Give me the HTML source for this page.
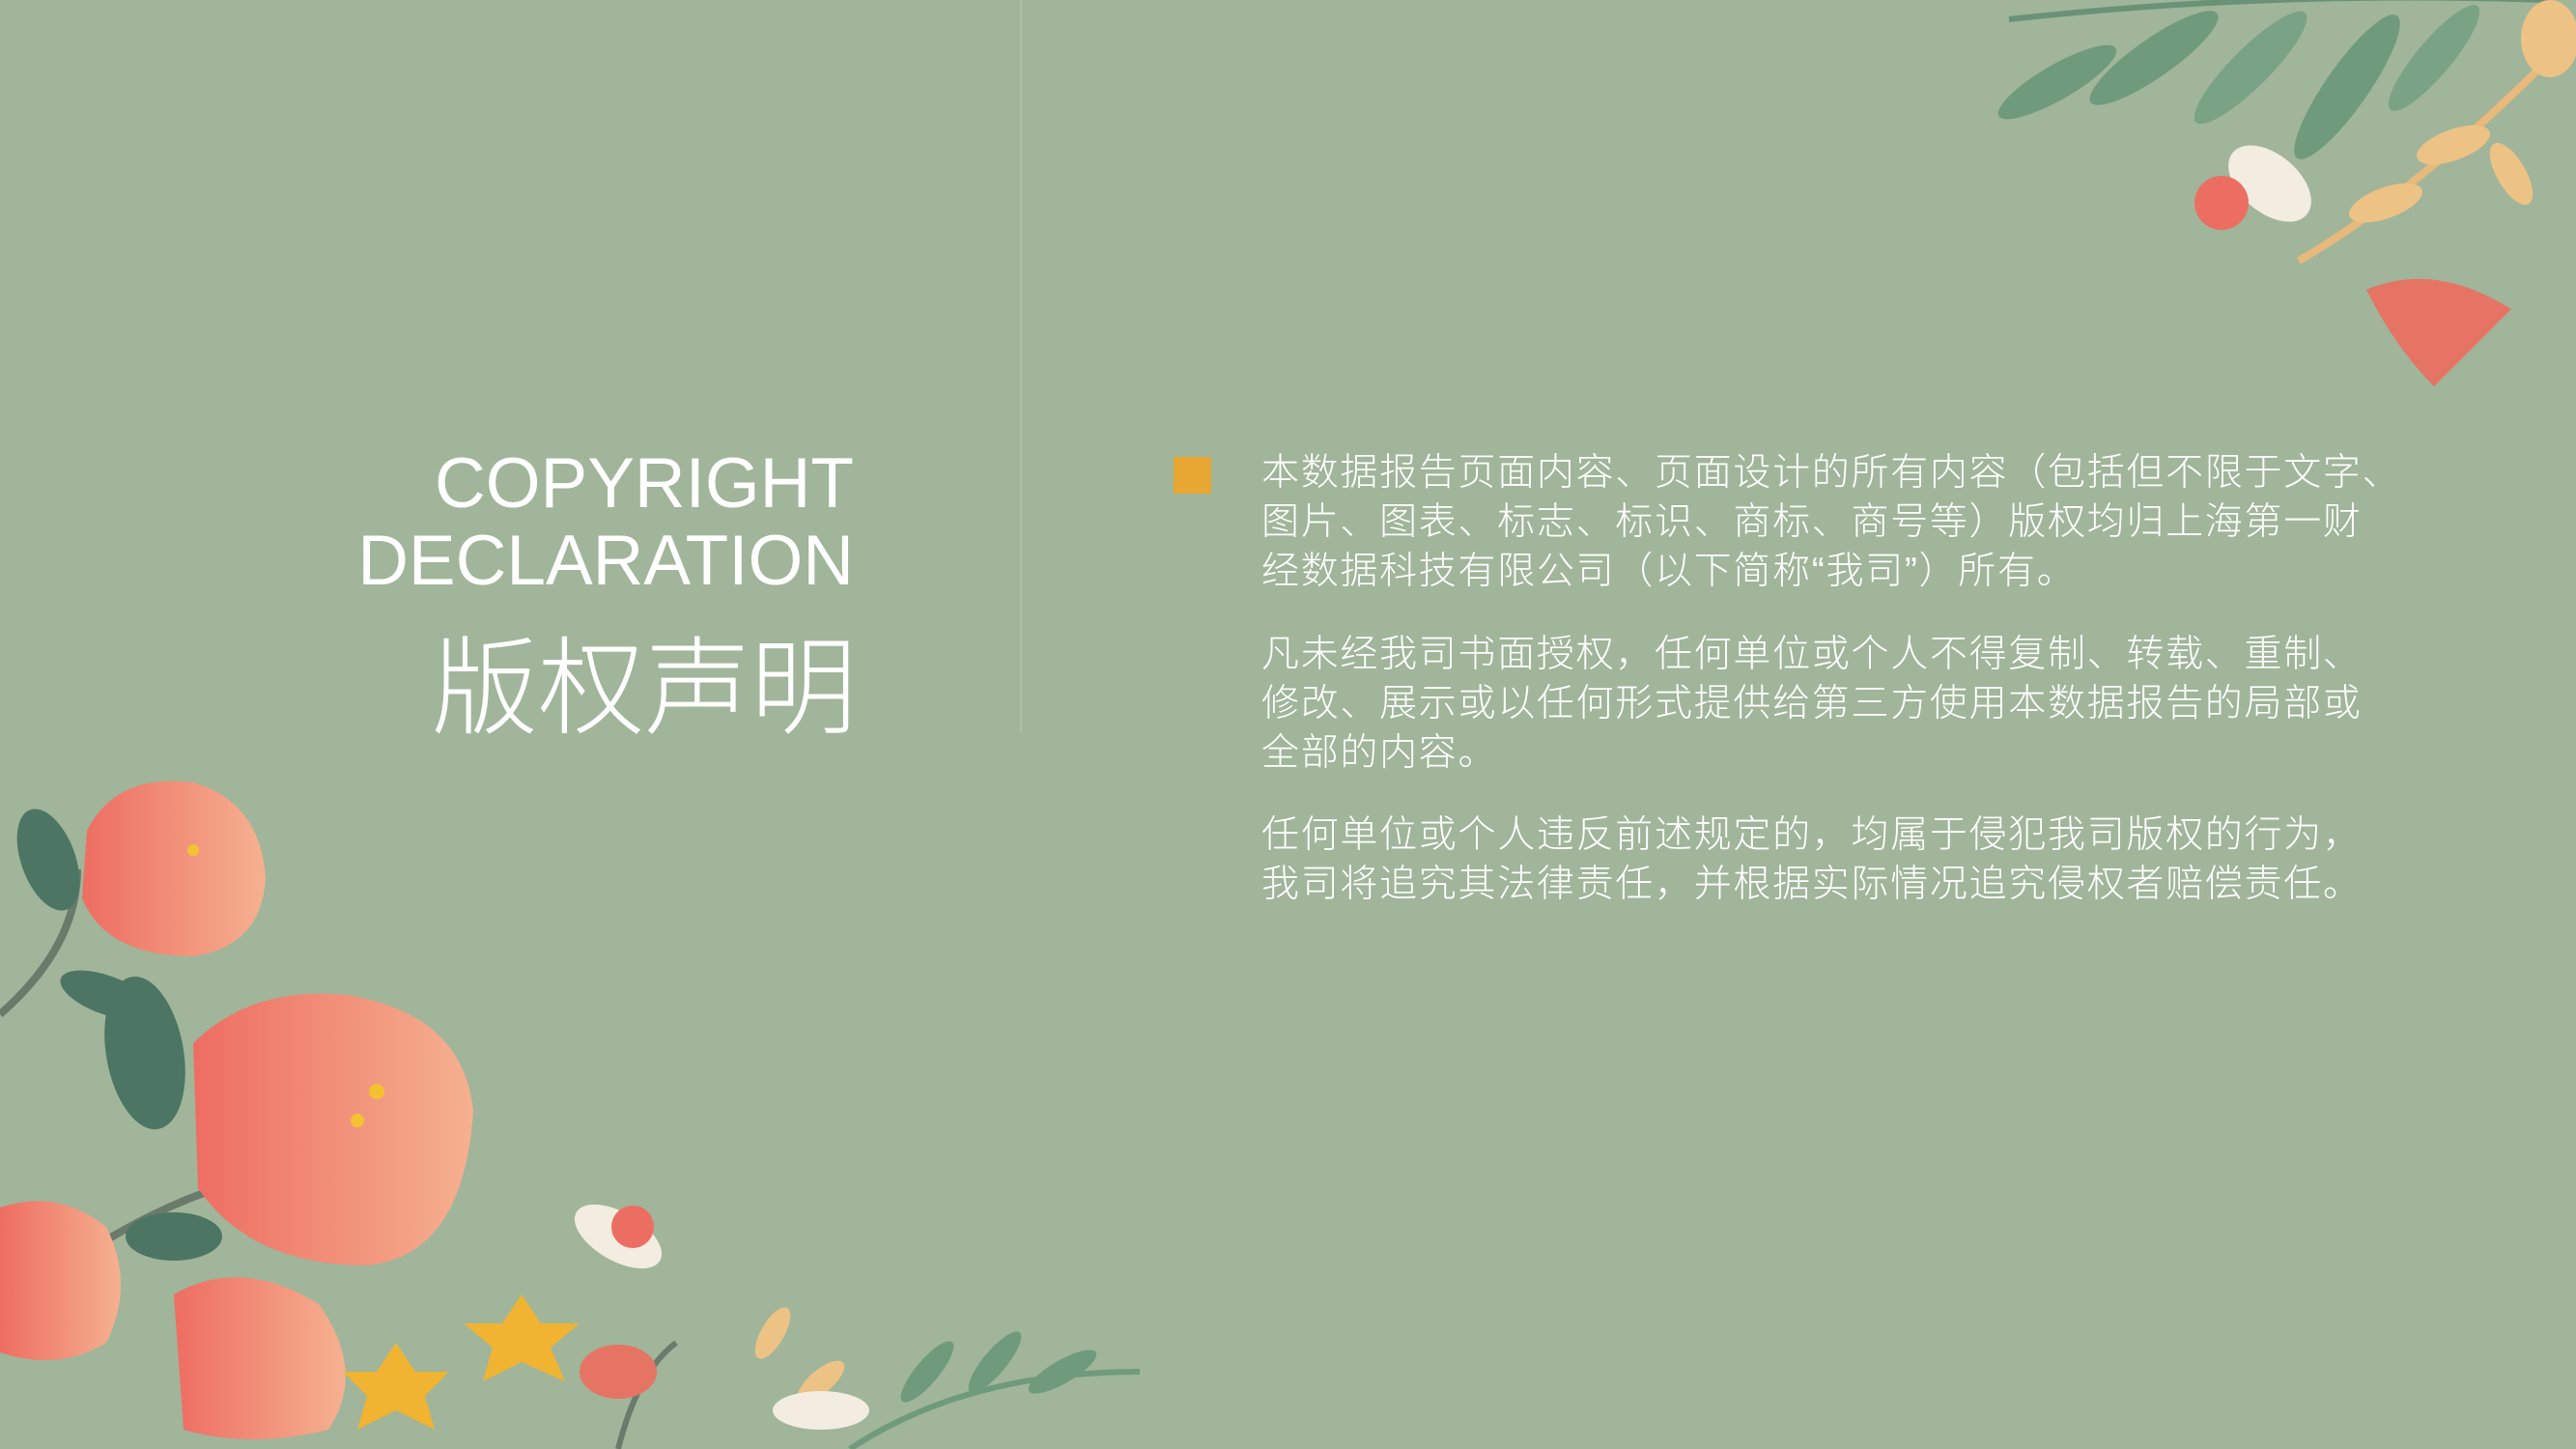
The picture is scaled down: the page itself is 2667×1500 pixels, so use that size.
<!DOCTYPE html>
<html><head><meta charset="utf-8">
<style>
html,body{margin:0;padding:0}
body{width:2667px;height:1500px;background:#a0b59a;position:relative;overflow:hidden;font-family:"Liberation Sans","Noto Sans CJK SC",sans-serif;color:#fff}
.abs{position:absolute}
#divider{left:1056px;top:0;width:2px;height:758px;background:#aec0a8}
.en{right:1783px;font-size:73px;line-height:80px;white-space:nowrap;text-align:right}
#title-cn{right:1780px;top:638px;font-size:110px;line-height:130px;font-family:"Noto Sans CJK SC",sans-serif;font-weight:300;white-space:nowrap}
#bullet{left:1215px;top:473px;width:39px;height:38px;background:#e8a733}
.para{left:1306px;font-size:39px;line-height:51px;letter-spacing:1.7px;font-family:"Liberation Sans","Noto Sans CJK SC",sans-serif;white-space:nowrap;font-weight:300}
</style></head><body>
<div class="abs" id="divider"></div>
<div class="abs en" style="top:461px">COPYRIGHT</div>
<div class="abs en" style="top:541px">DECLARATION</div>
<div class="abs" id="title-cn">版权声明</div>
<div class="abs" id="bullet"></div>
<div class="abs para" style="top:464px">本数据报告页面内容、页面设计的所有内容（包括但不限于文字、<br>图片、图表、标志、标识、商标、商号等）版权均归上海第一财<br>经数据科技有限公司（以下简称“我司”）所有。</div>
<div class="abs para" style="top:652px">凡未经我司书面授权，任何单位或个人不得复制、转载、重制、<br>修改、展示或以任何形式提供给第三方使用本数据报告的局部或<br>全部的内容。</div>
<div class="abs para" style="top:839px">任何单位或个人违反前述规定的，均属于侵犯我司版权的行为，<br>我司将追究其法律责任，并根据实际情况追究侵权者赔偿责任。</div>

<svg class="abs" style="left:0;top:0" width="2667" height="1500">
<defs>
<linearGradient id="pk" x1="0" y1="0" x2="1" y2="0"><stop offset="0" stop-color="#ee6d62"/><stop offset="1" stop-color="#f5b190"/></linearGradient>
</defs>
<g>
<path d="M2080 20 Q2350 -10 2640 0" stroke="#6a9276" stroke-width="6" fill="none"/>
<ellipse cx="2130" cy="85" rx="70" ry="18" fill="#6f9a7c" transform="rotate(-30 2130 85)"/>
<ellipse cx="2230" cy="60" rx="80" ry="20" fill="#6f9a7c" transform="rotate(-35 2230 60)"/>
<ellipse cx="2330" cy="70" rx="80" ry="20" fill="#7aa385" transform="rotate(-45 2330 70)"/>
<ellipse cx="2430" cy="90" rx="90" ry="22" fill="#6f9a7c" transform="rotate(-55 2430 90)"/>
<ellipse cx="2520" cy="60" rx="70" ry="18" fill="#7aa385" transform="rotate(-50 2520 60)"/>
<path d="M2380 270 Q2500 200 2640 60" stroke="#e7b97a" stroke-width="8" fill="none"/>
<ellipse cx="2470" cy="210" rx="40" ry="16" fill="#edc285" transform="rotate(-20 2470 210)"/>
<ellipse cx="2540" cy="150" rx="40" ry="16" fill="#edc285" transform="rotate(-20 2540 150)"/>
<ellipse cx="2600" cy="180" rx="36" ry="15" fill="#edc285" transform="rotate(60 2600 180)"/>
<ellipse cx="2640" cy="40" rx="30" ry="40" fill="#edc285"/>
<ellipse cx="2350" cy="190" rx="50" ry="30" fill="#f3ece0" transform="rotate(40 2350 190)"/>
<circle cx="2300" cy="210" r="28" fill="#ec6e63"/>
<path d="M2450 300 Q2520 270 2600 320 Q2560 360 2520 400 Q2480 360 2450 300Z" fill="#e57464"/>
</g>
<g>
<path d="M0 1050 Q80 980 80 900" stroke="#6a7a6b" stroke-width="8" fill="none"/>
<path d="M100 1290 Q180 1240 260 1220" stroke="#6a7a6b" stroke-width="8" fill="none"/>
<ellipse cx="50" cy="890" rx="28" ry="55" fill="#4d7563" transform="rotate(-20 50 890)"/>
<ellipse cx="150" cy="1090" rx="40" ry="80" fill="#4d7563" transform="rotate(-10 150 1090)"/>
<ellipse cx="110" cy="1030" rx="50" ry="20" fill="#4d7563" transform="rotate(20 110 1030)"/>
<ellipse cx="180" cy="1280" rx="50" ry="25" fill="#4d7563"/>
<path d="M90 860 Q120 800 200 810 Q270 830 275 910 Q270 980 200 990 Q110 990 85 930Z" fill="url(#pk)"/>
<path d="M200 1080 Q260 1020 360 1030 Q480 1050 490 1150 Q480 1300 380 1310 Q260 1310 205 1230Z" fill="url(#pk)"/>
<path d="M0 1250 Q60 1230 110 1270 Q140 1330 110 1390 Q60 1420 0 1400Z" fill="url(#pk)"/>
<path d="M180 1340 Q250 1300 330 1350 Q380 1420 340 1480 Q260 1500 190 1480Z" fill="url(#pk)"/>
<g fill="#f2c233"><circle cx="390" cy="1130" r="8"/><circle cx="370" cy="1160" r="7"/><circle cx="200" cy="880" r="6"/></g>
<polygon points="540,1340 560,1370 600,1370 570,1395 585,1430 540,1410 500,1430 510,1395 480,1370 520,1370" fill="#f0b432"/>
<polygon points="410,1390 430,1420 465,1420 440,1445 450,1480 410,1460 370,1480 380,1445 355,1420 390,1420" fill="#f0b432"/>
<ellipse cx="640" cy="1280" rx="50" ry="25" fill="#f3ece0" transform="rotate(30 640 1280)"/>
<circle cx="655" cy="1270" r="22" fill="#ec6e63"/>
<path d="M640 1500 Q660 1420 700 1390" stroke="#6a7a6b" stroke-width="6" fill="none"/>
<ellipse cx="640" cy="1420" rx="40" ry="28" fill="#e57464"/>
<path d="M880 1500 Q1000 1420 1180 1420" stroke="#6f9a7c" stroke-width="6" fill="none"/>
<ellipse cx="960" cy="1420" rx="40" ry="12" fill="#6f9a7c" transform="rotate(-50 960 1420)"/>
<ellipse cx="1030" cy="1410" rx="40" ry="12" fill="#6f9a7c" transform="rotate(-50 1030 1410)"/>
<ellipse cx="1100" cy="1420" rx="40" ry="12" fill="#6f9a7c" transform="rotate(-30 1100 1420)"/>
<ellipse cx="800" cy="1380" rx="30" ry="12" fill="#edc285" transform="rotate(-60 800 1380)"/>
<ellipse cx="850" cy="1430" rx="30" ry="12" fill="#edc285" transform="rotate(-40 850 1430)"/>
<ellipse cx="850" cy="1460" rx="50" ry="20" fill="#f3ece0"/>
</g>
</svg>
</body></html>
